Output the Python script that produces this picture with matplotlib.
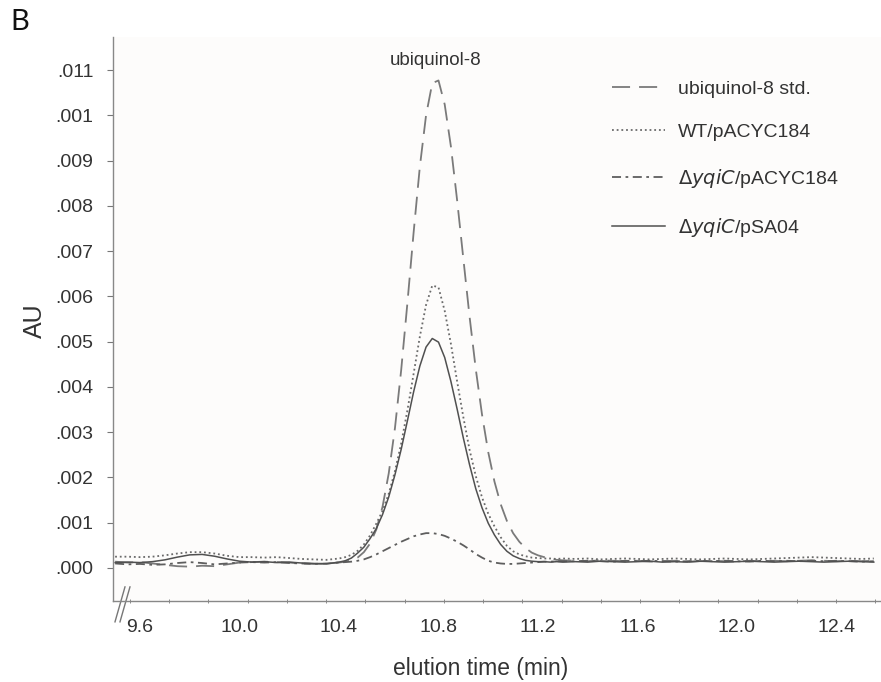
import matplotlib
matplotlib.use("Agg")
import matplotlib.pyplot as plt
import numpy as np

plt.rcParams['font.family'] = ['Liberation Sans', 'DejaVu Sans']

# elution time (min)
timeMin = [9.50, 9.55, 9.60, 9.65, 9.70, 9.75, 9.80, 9.85, 9.90, 9.95,
           10.00, 10.05, 10.10, 10.15, 10.20, 10.25, 10.30, 10.35,
           10.400, 10.425, 10.450, 10.475, 10.500, 10.525, 10.550, 10.575,
           10.600, 10.625, 10.650, 10.675, 10.700, 10.725, 10.750, 10.775,
           10.800, 10.825, 10.850, 10.875, 10.900, 10.925, 10.950, 10.975,
           11.000, 11.025, 11.050, 11.075, 11.100, 11.125, 11.150, 11.175,
           11.200, 11.225, 11.250, 11.275, 11.300,
           11.35, 11.40, 11.45, 11.50, 11.55, 11.60, 11.65, 11.70, 11.75,
           11.80, 11.85, 11.90, 11.95, 12.00, 12.05, 12.10, 12.15, 12.20,
           12.25, 12.30, 12.35, 12.40, 12.45, 12.50, 12.55]

# absorbance (AU)
stdAU = [0.00014, 0.00012, 0.00013, 0.00010, 0.00007, 0.00004, 0.00003, 0.00005, 0.00004,
         0.00008, 0.00012, 0.00013, 0.00014, 0.00013, 0.00012, 0.00010, 0.00009, 0.00010,
         0.00012, 0.00014, 0.00017, 0.00023, 0.00035, 0.00054, 0.00085, 0.00135, 0.00209,
         0.00309, 0.00437, 0.00585, 0.00741, 0.00886, 0.01000, 0.01071, 0.01077, 0.01024,
         0.00931, 0.00812, 0.00683, 0.00555, 0.00439, 0.00339, 0.00256, 0.00191, 0.00141,
         0.00104, 0.00077, 0.00058, 0.00044, 0.00034, 0.00028, 0.00024, 0.00020, 0.00018,
         0.00017,
         0.00016, 0.00015, 0.00017, 0.00016, 0.00015, 0.00016, 0.00014, 0.00015, 0.00016,
         0.00014, 0.00015, 0.00016, 0.00015, 0.00014, 0.00016, 0.00015, 0.00016, 0.00015,
         0.00016, 0.00017, 0.00016, 0.00015, 0.00016, 0.00015, 0.00016]

wtAU = [0.00025, 0.00025, 0.00024, 0.00025, 0.00028, 0.00032, 0.00035, 0.00035, 0.00032,
        0.00027, 0.00024, 0.00024, 0.00023, 0.00024, 0.00022, 0.00020, 0.00019, 0.00018,
        0.00021, 0.00024, 0.00029, 0.00038, 0.00052, 0.00072, 0.00098, 0.00126, 0.00164,
        0.00214, 0.00275, 0.00348, 0.00429, 0.00511, 0.00581, 0.00624, 0.00620, 0.00568,
        0.00495, 0.00412, 0.00333, 0.00261, 0.00203, 0.00156, 0.00120, 0.00092, 0.00068,
        0.00049, 0.00037, 0.00030, 0.00026, 0.00023, 0.00022, 0.00021, 0.00021, 0.00020,
        0.00021,
        0.00020, 0.00021, 0.00019, 0.00020, 0.00021, 0.00020, 0.00019, 0.00020, 0.00021,
        0.00020, 0.00019, 0.00020, 0.00021, 0.00020, 0.00019, 0.00020, 0.00021, 0.00022,
        0.00023, 0.00024, 0.00023, 0.00022, 0.00021, 0.00020, 0.00021]

yqiCAU = [0.00010, 0.00008, 0.00009, 0.00007, 0.00008, 0.00011, 0.00013, 0.00011, 0.00008,
          0.00010, 0.00012, 0.00013, 0.00012, 0.00013, 0.00011, 0.00010, 0.00009, 0.00010,
          0.00012, 0.00013, 0.00014, 0.00016, 0.00019, 0.00024, 0.00030, 0.00037, 0.00044,
          0.00051, 0.00058, 0.00064, 0.00070, 0.00074, 0.00077, 0.00077, 0.00075, 0.00071,
          0.00065, 0.00058, 0.00050, 0.00041, 0.00031, 0.00023, 0.00016, 0.00012, 0.00010,
          0.00009, 0.00009, 0.00010, 0.00011, 0.00012, 0.00013, 0.00014, 0.00014, 0.00015,
          0.00015,
          0.00015, 0.00016, 0.00015, 0.00014, 0.00016, 0.00015, 0.00016, 0.00015, 0.00014,
          0.00015, 0.00016, 0.00015, 0.00016, 0.00015, 0.00014, 0.00016, 0.00015, 0.00016,
          0.00015, 0.00016, 0.00015, 0.00016, 0.00015, 0.00014, 0.00015]

pSA04AU = [0.00012, 0.00013, 0.00012, 0.00014, 0.00018, 0.00024, 0.00029, 0.00030, 0.00026,
           0.00020, 0.00015, 0.00013, 0.00014, 0.00012, 0.00013, 0.00011, 0.00010, 0.00009,
           0.00013, 0.00016, 0.00022, 0.00033, 0.00046, 0.00065, 0.00087, 0.00118, 0.00157,
           0.00206, 0.00262, 0.00325, 0.00389, 0.00446, 0.00488, 0.00507, 0.00499, 0.00465,
           0.00412, 0.00351, 0.00287, 0.00228, 0.00175, 0.00133, 0.00099, 0.00073, 0.00052,
           0.00037, 0.00027, 0.00021, 0.00017, 0.00015, 0.00014, 0.00014, 0.00013, 0.00014,
           0.00013,
           0.00014, 0.00013, 0.00015, 0.00014, 0.00013, 0.00014, 0.00015, 0.00013, 0.00014,
           0.00013, 0.00015, 0.00014, 0.00013, 0.00014, 0.00015, 0.00014, 0.00013, 0.00014,
           0.00015, 0.00014, 0.00013, 0.00014, 0.00015, 0.00014, 0.00013]

seriesLabels = ['ubiquinol-8 std.', 'WT/pACYC184',
                r'$\Delta$$\it{yqiC}$/pACYC184', r'$\Delta$$\it{yqiC}$/pSA04']

xTickValues = [9.6, 10.0, 10.4, 10.8, 11.2, 11.6, 12.0, 12.4]
xTickLabels = ['9.6', '10.0', '10.4', '10.8', '11.2', '11.6', '12.0', '12.4']
yTickValues = [0.000, 0.001, 0.002, 0.003, 0.004, 0.005, 0.006, 0.007, 0.008, 0.009, 0.010, 0.011]
yTickLabels = ['.000', '.001', '.002', '.003', '.004', '.005', '.006', '.007', '.008', '.009', '.001', '.011']

fig = plt.figure(figsize=(8.81, 6.82), dpi=100)
ax = fig.add_axes([113/881, 81/682, 768/881, 564/682])
ax.set_facecolor('#fdfcfb')

ax.plot(timeMin, stdAU, color='#7a7a7a', lw=1.3, dashes=(10, 5), label=seriesLabels[0])
ax.plot(timeMin, wtAU, color='#6a6a6a', lw=1.3, dashes=(1, 1.6), label=seriesLabels[1])
ax.plot(timeMin, yqiCAU, color='#5e5e5e', lw=1.3, dashes=(5, 2.5, 1.5, 2.5), label=seriesLabels[2])
ax.plot(timeMin, pSA04AU, color='#505050', lw=1.1, label=seriesLabels[3])

ax.set_xlim(9.4915, 12.579)
ax.set_ylim(-0.000729, 0.01173)

ax.set_xticks(xTickValues)
ax.set_xticklabels(xTickLabels)
ax.set_xticks(np.arange(9.56, 12.58, 0.1577), minor=True)
ax.tick_params(axis='x', which='major', length=0, pad=13, labelsize=14, labelcolor='#333333')
ax.tick_params(axis='x', which='minor', length=3, direction='inout', color='#777777')
ax.set_yticks(yTickValues)
ax.set_yticklabels(yTickLabels)
ax.tick_params(axis='y', length=4, pad=10, labelsize=14, labelcolor='#333333', color='#777777')

for side in ['top', 'right']:
    ax.spines[side].set_visible(False)
for side in ['left', 'bottom']:
    ax.spines[side].set_color('#888888')
    ax.spines[side].set_linewidth(1.0)

# axis break mark
for off in [0.0, 0.0065]:
    ax.plot([0.0026 + off, 0.0156 + off], [-0.037, 0.025], transform=ax.transAxes,
            color='#777777', lw=1.0, clip_on=False)

ax.text(10.79, 0.01122, 'ubiquinol-8', ha='center', va='center', fontsize=13.5, color='#333333')

ax.legend(loc='upper left', bbox_to_anchor=(612/881, 1 - 80/682), bbox_transform=fig.transFigure,
          frameon=False, fontsize=14, handlelength=2.75, handletextpad=0.65, labelspacing=1.33,
          borderpad=0, borderaxespad=0, labelcolor='#333333')

fig.text(35/881, 1 - 321/682, 'AU', rotation=90, ha='center', va='center', fontsize=18, color='#333333')
fig.text(481/881, 1 - 668/682, 'elution time (min)', ha='center', va='center', fontsize=16.5, color='#333333')
fig.text(10/881, 1 - 22/682, 'B', ha='left', va='center', fontsize=21, family='Lato', color='#111111')

fig.savefig('out.png', dpi=100)
